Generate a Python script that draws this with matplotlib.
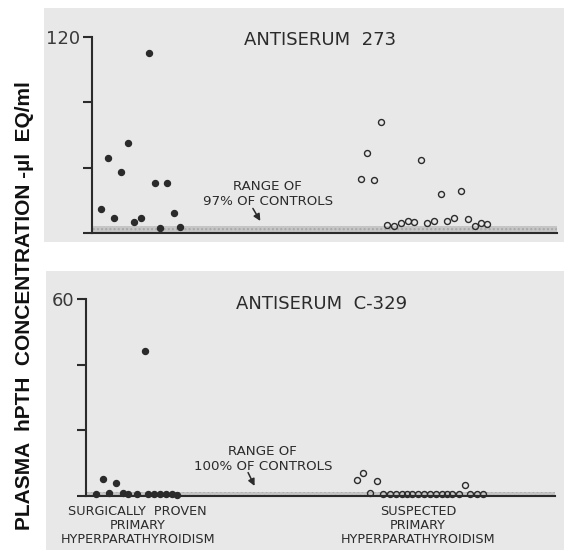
import matplotlib
matplotlib.use("Agg")
import matplotlib.pyplot as plt
from matplotlib.patches import Rectangle

# ── Data (x = position across the panel, 0-100; y = µl EQ/ml) ────────────────

# Antiserum 273
ab273_proven_x = [1.9, 3.5, 4.7, 6.2, 7.8, 9.0, 10.5, 12.3, 13.5, 14.7, 16.2, 17.6, 19.0]
ab273_proven_y = [14.7, 45.9, 9.0, 37.2, 55.3, 6.9, 9.0, 110.2, 30.6, 2.9, 30.6, 12.4, 3.5]

ab273_susp_x = [57.8, 59.1, 60.6, 62.2, 70.8, 75.1, 79.4,
                63.4, 64.9, 66.4, 67.9, 69.2, 72.1, 73.5, 76.4, 77.9, 80.8, 82.3, 83.7, 85.0]
ab273_susp_y = [32.9, 49.1, 32.4, 67.7, 44.9, 23.7, 25.5,
                5.1, 4.3, 5.9, 7.5, 6.7, 5.9, 7.5, 7.5, 9.2, 8.6, 4.5, 6.3, 5.3]

# Antiserum C-329
c329_proven_x = [3.7, 6.4, 12.6, 2.1, 5.0, 7.8, 9.0, 10.8, 13.3, 14.5, 15.8, 17.1, 18.3, 19.5]
c329_proven_y = [5.2, 3.9, 44.1, 0.5, 1.0, 0.8, 0.5, 0.5, 0.5, 0.5, 0.5, 0.5, 0.5, 0.3]

c329_susp_x = [57.8, 59.1, 62.0, 80.8,
               60.6, 63.4, 64.8, 66.1, 67.3, 68.5, 69.6, 70.8, 72.0, 73.3,
               74.6, 75.8, 77.0, 78.1, 79.5, 81.9, 83.3, 84.7]
c329_susp_y = [4.9, 6.9, 4.7, 3.2,
               0.8, 0.5, 0.5, 0.5, 0.5, 0.5, 0.5, 0.5, 0.5, 0.5,
               0.5, 0.5, 0.5, 0.5, 0.5, 0.5, 0.5, 0.5]

CONTROL_273 = 4.3    # upper limit of 97% of controls
CONTROL_C329 = 1.2   # upper limit of 100% of controls

INK = "#2b2b2b"
PAPER = "#e8e8e8"

fig = plt.figure(figsize=(5.64, 5.5), dpi=100)
fig.patch.set_facecolor("white")

# grey scanned-paper panels
fig.patches.append(Rectangle((44 / 564, 1 - 242 / 550), 520 / 564, 234 / 550,
                             transform=fig.transFigure, facecolor=PAPER,
                             edgecolor="none", zorder=-5))
fig.patches.append(Rectangle((46 / 564, 0), 518 / 564, 1 - 271 / 550,
                             transform=fig.transFigure, facecolor=PAPER,
                             edgecolor="none", zorder=-5))

ax1 = fig.add_axes([92 / 564, 1 - 233 / 550, 465 / 564, 196 / 550])
ax2 = fig.add_axes([86 / 564, 1 - 496 / 550, 469 / 564, 197 / 550])


def style(ax, ymax, ticks, band):
    ax.set_facecolor("none")
    ax.set_xlim(0, 100)
    ax.set_ylim(0, ymax)
    for s in ("top", "right"):
        ax.spines[s].set_visible(False)
    for s in ("left", "bottom"):
        ax.spines[s].set_linewidth(1.5)
        ax.spines[s].set_color(INK)
    ax.set_xticks([])
    ax.set_yticks(ticks)
    ax.set_yticklabels([""] * (len(ticks) - 1) + [str(ymax)])
    ax.tick_params(axis="y", direction="out", length=6.5, width=1.5,
                   color=INK, labelcolor="#3a3a3a", labelsize=13, pad=2)
    ax.axhspan(0, band, facecolor="#c6c6c6", edgecolor="#a8a8a8",
               hatch="....", linewidth=0, zorder=1)


style(ax1, 120, [0, 40, 80, 120], CONTROL_273)
style(ax2, 60, [0, 20, 40, 60], CONTROL_C329)

for ax, px, py, sx, sy in [
    (ax1, ab273_proven_x, ab273_proven_y, ab273_susp_x, ab273_susp_y),
    (ax2, c329_proven_x, c329_proven_y, c329_susp_x, c329_susp_y),
]:
    ax.plot(px, py, "o", ms=4.3, color=INK, mec=INK, zorder=5, clip_on=False)
    ax.plot(sx, sy, "o", ms=4.3, mfc="none", mec=INK, mew=1.0, zorder=5,
            clip_on=False)

# titles
ax1.text(49, 118.2, "ANTISERUM  273", ha="center", va="center",
         fontsize=13, color=INK)
ax2.text(50.3, 58.5, "ANTISERUM  C-329", ha="center", va="center",
         fontsize=13, color=INK)

# control-range notes with arrows
ax1.text(37.8, 24.0, "RANGE OF\n97% OF CONTROLS", ha="center", va="center",
         fontsize=9.6, color=INK, linespacing=1.15)
ax1.annotate("", xy=(36.5, 5.9), xytext=(34.3, 16.5),
             arrowprops=dict(arrowstyle="-|>", color=INK, lw=1.1,
                             mutation_scale=10))
ax2.text(37.7, 11.3, "RANGE OF\n100% OF CONTROLS", ha="center", va="center",
         fontsize=9.6, color=INK, linespacing=1.15)
ax2.annotate("", xy=(36.2, 2.3), xytext=(34.3, 7.9),
             arrowprops=dict(arrowstyle="-|>", color=INK, lw=1.1,
                             mutation_scale=10))

# group labels under the lower panel
ax2.text(11.0, -9.0, "SURGICALLY  PROVEN\nPRIMARY\nHYPERPARATHYROIDISM",
         ha="center", va="center", fontsize=9.2, color=INK, linespacing=1.1,
         clip_on=False)
ax2.text(70.8, -9.0, "SUSPECTED\nPRIMARY\nHYPERPARATHYROIDISM",
         ha="center", va="center", fontsize=9.2, color=INK, linespacing=1.1,
         clip_on=False)

# shared y label
fig.text(25 / 564, 1 - 306 / 550, "PLASMA  hPTH  CONCENTRATION -\u00b5l  EQ/ml",
         rotation=90, ha="center", va="center", fontsize=15,
         fontweight="bold", family="Liberation Sans", color="#111111")

fig.savefig("out.png", dpi=100)
